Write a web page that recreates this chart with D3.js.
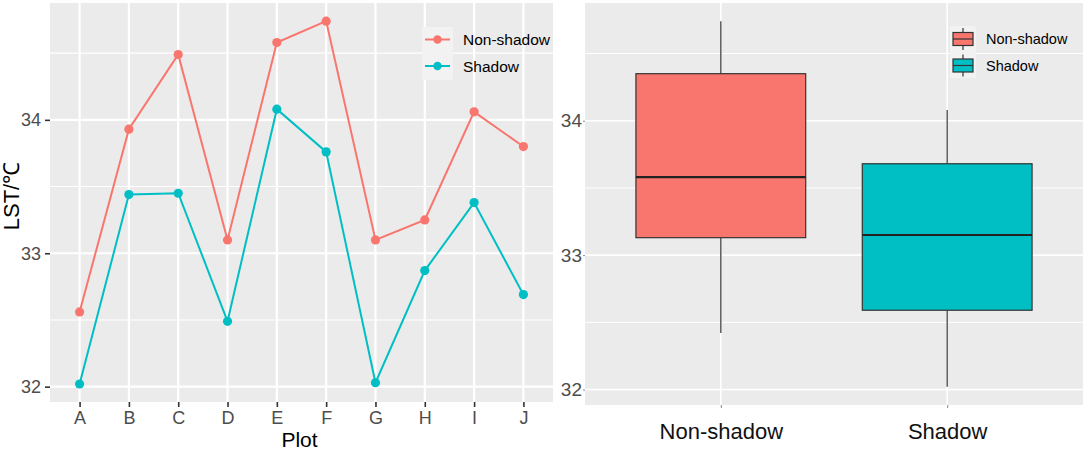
<!DOCTYPE html>
<html>
<head>
<meta charset="utf-8">
<script src="https://cdn.jsdelivr.net/npm/d3@7"></script>
<style>
  html, body { margin: 0; padding: 0; background: #ffffff; }
  svg { display: block; font-family: "Liberation Sans", Arial, sans-serif; }
</style>
</head>
<body>
<svg id="chart" width="1086" height="450"></svg>
<script>
// ---------- data ----------
const plots = ["A","B","C","D","E","F","G","H","I","J"];
const nonShadow = [32.56, 33.93, 34.49, 33.10, 34.58, 34.74, 33.10, 33.25, 34.06, 33.80];
const shadow    = [32.02, 33.44, 33.45, 32.49, 34.08, 33.76, 32.03, 32.87, 33.38, 32.69];
const seriesNames = ["Non-shadow", "Shadow"];
const seriesColors = ["#F8766D", "#00BFC4"];
const yTicks = [32, 33, 34];
const yMinor = [32.5, 33.5, 34.5];
const yDomain = [31.885, 34.876];

// boxplot statistics per group
const boxGroups  = ["Non-shadow", "Shadow"];
const boxLower   = [32.42, 32.02];
const boxQ1      = [33.13, 32.59];
const boxMedian  = [33.58, 33.15];
const boxQ3      = [34.35, 33.68];
const boxUpper   = [34.74, 34.08];

// ---------- setup ----------
const svg = d3.select("#chart");
const panelBg = "#EBEBEB";
const tickCol = "#333333";
const labCol = "#4D4D4D";

// ================= LEFT PANEL =================
const L = {x0: 50, x1: 553, y0: 3, y1: 402};
const xL = d3.scalePoint().domain(plots).range([L.x0, L.x1]).padding(0.6);
const yL = d3.scaleLinear().domain(yDomain).range([L.y1, L.y0]);

const gL = svg.append("g");
gL.append("rect").attr("x", L.x0).attr("y", L.y0)
  .attr("width", L.x1 - L.x0).attr("height", L.y1 - L.y0).attr("fill", panelBg);
// minor grid
gL.selectAll(".minor").data(yMinor).join("line")
  .attr("x1", L.x0).attr("x2", L.x1)
  .attr("y1", d => yL(d)).attr("y2", d => yL(d))
  .attr("stroke", "#fff").attr("stroke-width", 1.1);
// major grid
gL.selectAll(".majorY").data(yTicks).join("line")
  .attr("x1", L.x0).attr("x2", L.x1)
  .attr("y1", d => yL(d)).attr("y2", d => yL(d))
  .attr("stroke", "#fff").attr("stroke-width", 2.2);
gL.selectAll(".majorX").data(plots).join("line")
  .attr("x1", d => xL(d)).attr("x2", d => xL(d))
  .attr("y1", L.y0).attr("y2", L.y1)
  .attr("stroke", "#fff").attr("stroke-width", 2.2);

// axes
const axLY = gL.append("g").attr("transform", `translate(${L.x0},0)`)
  .call(d3.axisLeft(yL).tickValues(yTicks).tickSize(5).tickPadding(4).tickFormat(d3.format("d")));
const axLX = gL.append("g").attr("transform", `translate(0,${L.y1})`)
  .call(d3.axisBottom(xL).tickSize(5).tickPadding(4));
[axLY, axLX].forEach(a => {
  a.select(".domain").remove();
  a.selectAll(".tick line").attr("stroke", tickCol).attr("stroke-width", 1.6);
  a.selectAll(".tick text").attr("fill", labCol).attr("font-size", 18)
    .attr("font-family", "Liberation Sans, Arial, sans-serif");
});

// series lines & points
const seriesData = [nonShadow, shadow];
const line = d3.line().x((d, i) => xL(plots[i])).y(d => yL(d));
seriesData.forEach((vals, s) => {
  gL.append("path").datum(vals).attr("d", line)
    .attr("fill", "none").attr("stroke", seriesColors[s]).attr("stroke-width", 2);
  gL.selectAll(".pt" + s).data(vals).join("circle")
    .attr("cx", (d, i) => xL(plots[i])).attr("cy", d => yL(d))
    .attr("r", 4.6).attr("fill", seriesColors[s]);
});

// axis titles
svg.append("text").attr("x", (L.x0 + L.x1) / 2 - 2).attr("y", 447)
  .attr("text-anchor", "middle").attr("font-size", 21).attr("fill", "#000")
  .text("Plot");
svg.append("text").attr("transform", "translate(19,196) rotate(-90)")
  .attr("text-anchor", "middle").attr("font-size", 22).attr("fill", "#000")
  .text("LST/℃");

// legend (left)
const legL = svg.append("g");
legL.append("rect").attr("x", 422).attr("y", 27).attr("width", 31).attr("height", 53)
  .attr("fill", "#F2F2F2");
seriesNames.forEach((name, i) => {
  const cy = 39.5 + i * 26.5;
  legL.append("line").attr("x1", 425).attr("x2", 450).attr("y1", cy).attr("y2", cy)
    .attr("stroke", seriesColors[i]).attr("stroke-width", 2);
  legL.append("circle").attr("cx", 437.5).attr("cy", cy).attr("r", 4.2).attr("fill", seriesColors[i]);
  legL.append("text").attr("x", 463).attr("y", cy + 5.5).attr("font-size", 15.5)
    .attr("fill", "#000").text(name);
});

// ================= RIGHT PANEL =================
const R = {x0: 585, x1: 1083, y0: 3, y1: 405};
const xR = d3.scalePoint().domain(boxGroups).range([R.x0, R.x1]).padding(0.6);
const yR = d3.scaleLinear().domain(yDomain).range([R.y1, R.y0]);
const step = xR.step();
const boxW = step * 0.75;

const gR = svg.append("g");
gR.append("rect").attr("x", R.x0).attr("y", R.y0)
  .attr("width", R.x1 - R.x0).attr("height", R.y1 - R.y0).attr("fill", panelBg);
gR.selectAll(".minor").data(yMinor).join("line")
  .attr("x1", R.x0).attr("x2", R.x1)
  .attr("y1", d => yR(d)).attr("y2", d => yR(d))
  .attr("stroke", "#fff").attr("stroke-width", 1);
gR.selectAll(".majorY").data(yTicks).join("line")
  .attr("x1", R.x0).attr("x2", R.x1)
  .attr("y1", d => yR(d)).attr("y2", d => yR(d))
  .attr("stroke", "#fff").attr("stroke-width", 1.6);
gR.selectAll(".majorX").data(boxGroups).join("line")
  .attr("x1", d => xR(d)).attr("x2", d => xR(d))
  .attr("y1", R.y0).attr("y2", R.y1)
  .attr("stroke", "#fff").attr("stroke-width", 1.6);

const axRY = gR.append("g").attr("transform", `translate(${R.x0},0)`)
  .call(d3.axisLeft(yR).tickValues(yTicks).tickSize(2).tickPadding(1).tickFormat(d3.format("d")));
const axRX = gR.append("g").attr("transform", `translate(0,${R.y1})`)
  .call(d3.axisBottom(xR).tickSize(3).tickPadding(15));
[axRY, axRX].forEach(a => {
  a.select(".domain").remove();
  a.selectAll(".tick line").attr("stroke", "#888").attr("stroke-width", 1);
  a.selectAll(".tick text").attr("font-family", "Liberation Sans, Arial, sans-serif");
});
axRY.selectAll(".tick text").attr("fill", labCol).attr("font-size", 19);
axRX.selectAll(".tick text").attr("fill", "#111").attr("font-size", 22);

// boxes
boxGroups.forEach((g, i) => {
  const cx = xR(g);
  gR.append("line").attr("x1", cx).attr("x2", cx)
    .attr("y1", yR(boxUpper[i])).attr("y2", yR(boxQ3[i]))
    .attr("stroke", "#444").attr("stroke-width", 1.3);
  gR.append("line").attr("x1", cx).attr("x2", cx)
    .attr("y1", yR(boxQ1[i])).attr("y2", yR(boxLower[i]))
    .attr("stroke", "#444").attr("stroke-width", 1.3);
  gR.append("rect").attr("x", cx - boxW / 2).attr("y", yR(boxQ3[i]))
    .attr("width", boxW).attr("height", yR(boxQ1[i]) - yR(boxQ3[i]))
    .attr("fill", seriesColors[i]).attr("stroke", "#333").attr("stroke-width", 1.2);
  gR.append("line").attr("x1", cx - boxW / 2).attr("x2", cx + boxW / 2)
    .attr("y1", yR(boxMedian[i])).attr("y2", yR(boxMedian[i]))
    .attr("stroke", "#222").attr("stroke-width", 2.2);
});

// legend (right)
const legR = svg.append("g");
legR.append("rect").attr("x", 950).attr("y", 26).attr("width", 26).attr("height", 52)
  .attr("fill", "#F2F2F2");
boxGroups.forEach((name, i) => {
  const cy = 39 + i * 26.5;
  legR.append("line").attr("x1", 963).attr("x2", 963).attr("y1", cy - 11).attr("y2", cy + 11)
    .attr("stroke", "#333").attr("stroke-width", 1.2);
  legR.append("rect").attr("x", 953).attr("y", cy - 6.5).attr("width", 20).attr("height", 13)
    .attr("fill", seriesColors[i]).attr("stroke", "#333").attr("stroke-width", 1.2);
  legR.append("line").attr("x1", 953).attr("x2", 973).attr("y1", cy).attr("y2", cy)
    .attr("stroke", "#333").attr("stroke-width", 1.2);
  legR.append("text").attr("x", 986).attr("y", cy + 5).attr("font-size", 14.5)
    .attr("fill", "#000").text(name);
});
</script>
</body>
</html>
